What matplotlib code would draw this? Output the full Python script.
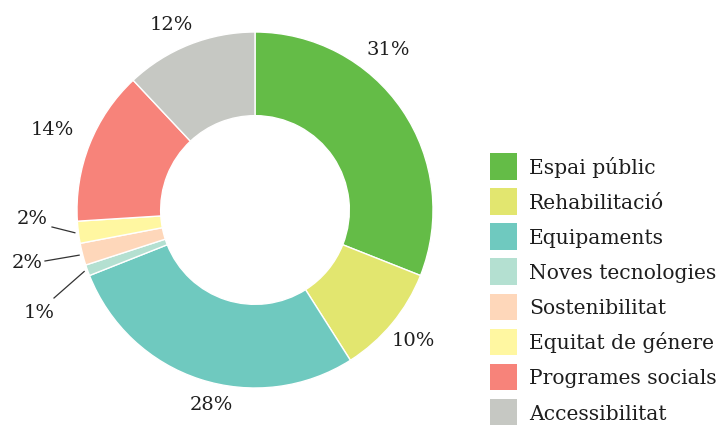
import matplotlib
matplotlib.use("Agg")
import matplotlib.pyplot as plt
from matplotlib.patches import Rectangle
import numpy as np

categories = ["Espai públic", "Rehabilitació", "Equipaments", "Noves tecnologies",
              "Sostenibilitat", "Equitat de génere", "Programes socials", "Accessibilitat"]
values = [31, 10, 28, 1, 2, 2, 14, 12]
labels = ["31%", "10%", "28%", "1%", "2%", "2%", "14%", "12%"]
colors = ["#64BC47", "#E2E66F", "#6FC9BF", "#B4E0D1", "#FED7BA", "#FFF7A1", "#F7837A", "#C6C8C3"]

plt.rcParams['font.family'] = ['DejaVu Serif']
W, H, DPI = 720, 425, 100
fig = plt.figure(figsize=(W / DPI, H / DPI), dpi=DPI)

R = 178.0          # outer radius in px
cx, cy = 255.0, 210.0  # centre in px (from top-left)
axw = 480.0
ax = fig.add_axes([0, 0, axw / W, 1])
wedges, _ = ax.pie(values, colors=colors, startangle=90, counterclock=False,
                   radius=1.0, wedgeprops=dict(width=0.47, edgecolor="white", linewidth=1))
ax.set_xlim(-cx / R, (axw - cx) / R)
ax.set_ylim(-(H - cy) / R, cy / R)
ax.set_aspect('equal', adjustable='box')

def px(x, y):
    return ((x - cx) / R, (cy - y) / R)

TXT = "#1E1E1E"
# label anchor positions (layout, in px)
label_pos = [(388, 50), (413, 341), (211, 405), (39, 313), (27, 263), (32, 219), (52, 130), (171, 25)]
leader_end = {3: (54, 298), 4: (45, 261), 5: (52, 227)}

cum = np.cumsum([0] + values)
total = float(sum(values))
for i, (lab, pos) in enumerate(zip(labels, label_pos)):
    x, y = px(*pos)
    ax.text(x, y, lab, ha="center", va="center", fontsize=14, color=TXT)
    if i in leader_end:
        mid = (cum[i] + cum[i + 1]) / 2 / total
        ang = np.deg2rad(90 - 360 * mid)
        sx, sy = 1.02 * np.cos(ang), 1.02 * np.sin(ang)
        ex, ey = px(*leader_end[i])
        ax.plot([sx, ex], [sy, ey], color="#333333", lw=0.9)

# legend (manual, figure pixel layout)
row0, step, sq = 166.5, 35.1, 26.7
for i, (cat, col) in enumerate(zip(categories, colors)):
    yc = row0 + step * i
    fig.patches.append(Rectangle((490 / W, 1 - (yc + sq / 2) / H), sq / W, sq / H,
                                 transform=fig.transFigure, facecolor=col,
                                 edgecolor="none", figure=fig))
    fig.text(529 / W, 1 - (yc + 7.3) / H, cat, ha="left", va="baseline",
             fontsize=14.6, color=TXT)

fig.savefig("out.png", dpi=DPI)
